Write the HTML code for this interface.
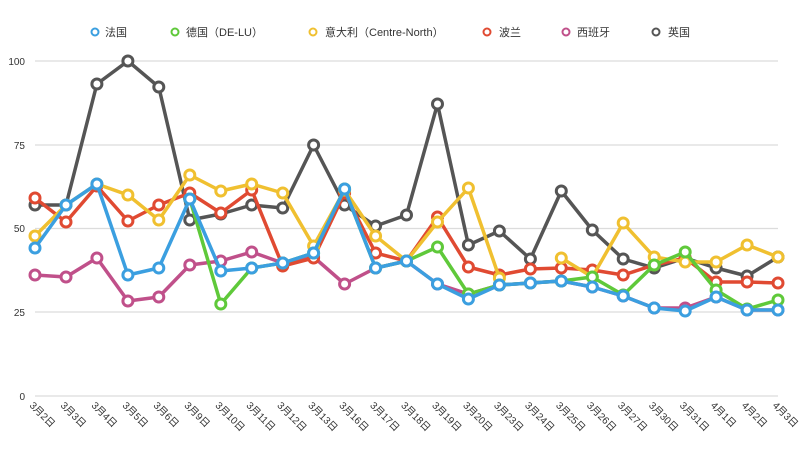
<!DOCTYPE html>
<html><head><meta charset="utf-8"><style>
body{margin:0;background:#fff;}
svg{display:block;font-family:"Liberation Sans","Noto Sans CJK SC",sans-serif;}
</style></head><body>
<svg width="800" height="453" viewBox="0 0 800 453" id="s">
<g stroke="#dcdcdc" stroke-width="1.2">
<line x1="35" y1="61" x2="778" y2="61"/><line x1="35" y1="145" x2="778" y2="145"/>
<line x1="35" y1="228.5" x2="778" y2="228.5"/><line x1="35" y1="312" x2="778" y2="312"/>
<line x1="35" y1="396" x2="778" y2="396"/></g>
<g font-size="10" fill="#333" text-anchor="end">
<text x="25" y="65">100</text><text x="25" y="149">75</text><text x="25" y="232">50</text><text x="25" y="316">25</text><text x="25" y="400">0</text></g>
<g font-size="11" fill="#333">
<circle cx="95" cy="32" r="3.5" fill="#fff" stroke="#3b9fe0" stroke-width="2"/><text x="105" y="36">法国</text>
<circle cx="175" cy="32" r="3.5" fill="#fff" stroke="#5fc93a" stroke-width="2"/><text x="186" y="36">德国（DE-LU）</text>
<circle cx="313" cy="32" r="3.5" fill="#fff" stroke="#f0c030" stroke-width="2"/><text x="325" y="36">意大利（Centre-North）</text>
<circle cx="487" cy="32" r="3.5" fill="#fff" stroke="#e04a32" stroke-width="2"/><text x="499" y="36">波兰</text>
<circle cx="566" cy="32" r="3.5" fill="#fff" stroke="#c0508a" stroke-width="2"/><text x="577" y="36">西班牙</text>
<circle cx="656" cy="32" r="3.5" fill="#fff" stroke="#555" stroke-width="2"/><text x="668" y="36">英国</text>
</g>
<g id="xl" font-size="10" fill="#333"></g>
<g id="series"></g>
</svg>
<script>
var xs=[];for(var i=0;i<25;i++)xs.push(35+i*30.96);
var dates=["3月2日","3月3日","3月4日","3月5日","3月6日","3月9日","3月10日","3月11日","3月12日","3月13日","3月16日","3月17日","3月18日","3月19日","3月20日","3月23日","3月24日","3月25日","3月26日","3月27日","3月30日","3月31日","4月1日","4月2日","4月3日"];
var ns="http://www.w3.org/2000/svg",xl=document.getElementById("xl");
dates.forEach(function(d,i){var t=document.createElementNS(ns,"text");t.setAttribute("transform","translate("+(xs[i]-6)+",406) rotate(45)");t.textContent=d;xl.appendChild(t);});
var N=null;
var S=[
["#555",[205,205,84,61,87,220,214,205,208,145,205,226,215,104,245,231,259,191,230,259,268,258,268,276,257]],
["#c0508a",[275,277,258,301,297,265,261,252,263,257,284,268,261,284,294,285,283,281,287,296,308,308,297,310,310]],
["#e04a32",[198,222,186,221,205,193,213,190,266,258,193,253,261,217,267,275,269,268,270,275,265,258,282,282,283]],
["#f0c030",[236,205,184,195,220,175,191,184,193,246,190,236,261,222,188,278,N,258,277,223,257,262,262,245,257]],
["#5fc93a",[N,N,N,N,N,199,304,268,263,253,189,268,261,247,294,285,283,281,277,295,265,252,290,309,300]],
["#3b9fe0",[248,205,184,275,268,199,271,268,263,253,189,268,261,284,299,285,283,281,287,296,308,311,297,310,310]]];
var g=document.getElementById("series"),h="";
S.forEach(function(s){var c=s[0],v=s[1],d="",pen=false;
for(var i=0;i<v.length;i++){if(v[i]===N){pen=false;continue;}d+=(pen?"L":"M")+xs[i].toFixed(1)+" "+v[i]+" ";pen=true;}
h+='<path d="'+d+'" fill="none" stroke="'+c+'" stroke-width="3.5" stroke-linejoin="round"/>';
for(var i=0;i<v.length;i++){if(v[i]===N)continue;h+='<circle cx="'+xs[i].toFixed(1)+'" cy="'+v[i]+'" r="5" fill="#fff" stroke="'+c+'" stroke-width="3"/>';}
});
g.innerHTML=h;
</script>
</body></html>
